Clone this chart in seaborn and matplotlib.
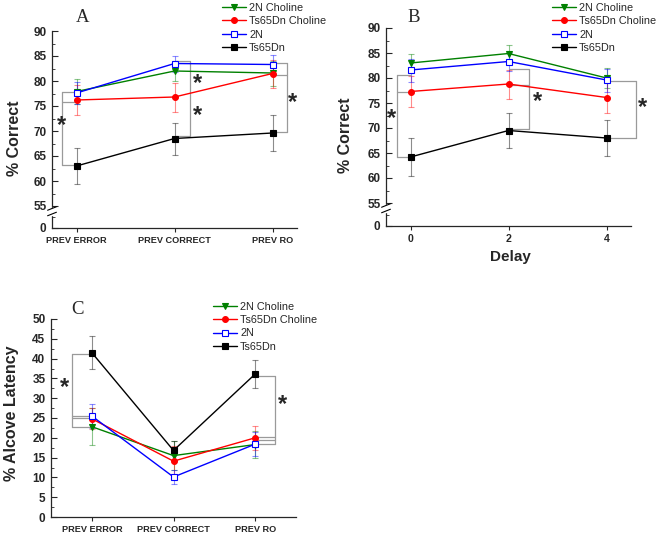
import seaborn as sns
import matplotlib.pyplot as plt
import matplotlib.transforms as mtransforms
import pandas as pd
import numpy as np

sns.set_style("ticks")
plt.rcParams['font.family'] = ['Liberation Sans', 'DejaVu Sans']

# groups and their look
groups = ['2N Choline', 'Ts65Dn Choline', '2N', 'Ts65Dn']
colors = ['#008000', '#ff0000', '#0000ff', '#000000']
markers = ['v', 'o', 's', 's']
faces = ['#008000', '#ff0000', 'white', '#000000']

prev_labels = ['PREV ERROR', 'PREV CORRECT', 'PREV RO']
delays = [0, 2, 4]

# panel A: % correct by previous trial (rows follow groups)
a_mean = [[77.9, 82.0, 81.6], [76.2, 76.8, 81.5], [77.6, 83.5, 83.3], [63.0, 68.5, 69.6]]
a_err = [[2.4, 2.0, 2.5], [3.1, 2.9, 2.8], [2.2, 1.6, 1.9], [3.6, 3.2, 3.6]]

# panel B: % correct by delay
b_mean = [[83.0, 84.9, 80.0], [77.3, 78.8, 76.1], [81.6, 83.3, 79.6], [64.2, 69.5, 68.0]]
b_err = [[1.8, 1.7, 2.0], [3.1, 2.9, 3.1], [2.3, 1.8, 2.3], [3.8, 3.5, 3.6]]

# panel C: % alcove latency by previous trial
c_mean = [[22.8, 15.5, 18.3], [24.8, 14.1, 20.0], [25.5, 10.1, 18.4], [41.5, 16.8, 36.1]]
c_err = [[4.6, 3.6, 3.4], [2.6, 3.8, 3.0], [3.0, 1.7, 3.0], [4.1, 2.4, 3.5]]

# significance brackets: (x of vertical, x of point, levels) and star spots
a_brackets = [(-0.148, 0, [77.9, 75.9, 63.3]), (1.158, 1, [84.0, 69.0]), (2.148, 2, [83.6, 81.2, 69.9])]
a_stars = [(-0.148, 71.0), (1.23, 79.5), (1.23, 73.0), (2.20, 75.6)]
b_brackets = [(-0.28, 0, [80.6, 77.3, 64.2]), (2.42, 2, [81.9, 78.7, 69.8]), (4.60, 4, [79.5, 68.0])]
b_stars = [(-0.38, 71.8), (2.60, 75.3), (4.74, 74.0)]
c_brackets = [(-0.246, 0, [41.2, 25.5, 24.9, 22.8]), (2.24, 2, [35.6, 20.3, 19.4, 18.5])]
c_stars = [(-0.34, 32.8), (2.33, 28.3)]

W, H = 656, 536
fig = plt.figure(figsize=(W / 100, H / 100), dpi=100)
axA = fig.add_axes([52 / W, (H - 228) / H, 245 / W, 197 / H])
axB = fig.add_axes([386 / W, (H - 226) / H, 245 / W, 198 / H])
axC = fig.add_axes([51 / W, (H - 517) / H, 245 / W, 198 / H])


def draw_panel(ax, xs, means, errs):
    for g, col, mk, fc, m, e in zip(groups, colors, markers, faces, means, errs):
        df = pd.DataFrame({'x': xs, 'y': m, 'err': e})
        ax.errorbar(df['x'], df['y'], yerr=df['err'], fmt='none', ecolor=col,
                    alpha=0.45, capsize=2.4, elinewidth=0.8, capthick=0.8, zorder=1)
        sns.lineplot(data=df, x='x', y='y', ax=ax, color=col, marker=mk, markersize=4.2,
                     markerfacecolor=fc, markeredgecolor=col, markeredgewidth=0.8,
                     linewidth=1.0, label=g, zorder=3)


def draw_brackets(ax, brackets, stars):
    for xv, xp, levels in brackets:
        ax.plot([xv, xv], [min(levels), max(levels)], color='#9a9a9a', lw=0.9, clip_on=False, zorder=2)
        for lv in levels:
            ax.plot([xp, xv], [lv, lv], color='#9a9a9a', lw=0.9, clip_on=False, zorder=2)
    for sx, sy in stars:
        ax.text(sx, sy, '*', ha='center', va='center', fontsize=17, fontweight='bold',
                clip_on=False, zorder=4)


def style_axes(ax):
    sns.despine(ax=ax)
    for s in ['left', 'bottom']:
        ax.spines[s].set_linewidth(0.9)
    ax.tick_params(axis='y', which='both', direction='in', labelsize=8.5, pad=4)
    ax.tick_params(axis='y', which='major', length=4, width=0.8)
    ax.tick_params(axis='y', which='minor', length=2, width=0.6)
    ax.tick_params(axis='x', which='major', direction='out', length=3, width=0.8, labelsize=6.6, pad=3)
    for lab in ax.get_xticklabels() + ax.get_yticklabels():
        lab.set_fontweight('bold')


def broken_y(ax, low):
    ticks = [low] + list(range(55, 91, 5))
    ax.set_ylim(low, 90)
    ax.set_yticks(ticks)
    ax.set_yticklabels(['0'] + [str(t) for t in range(55, 91, 5)])
    ax.set_yticks([low + (55 - low) / 2] + [t + 2.5 for t in range(55, 90, 5)], minor=True)
    tr = mtransforms.blended_transform_factory(ax.transAxes, ax.transData)
    ax.add_patch(plt.Rectangle((-0.01, 53.2), 0.02, 1.4, transform=tr, color='white',
                               clip_on=False, zorder=5))
    for yb in [54.5, 53.4]:
        ax.plot([-0.018, 0.018], [yb - 0.35, yb + 0.35], transform=tr, color='black',
                lw=0.8, clip_on=False, zorder=6)


def legend(ax, x, y):
    ax.legend(loc='upper left', bbox_to_anchor=(x / W, 1 - y / H), bbox_transform=fig.transFigure,
              frameon=False, fontsize=7.8, handlelength=2.2, handletextpad=0.3,
              labelspacing=0.3, borderpad=0, borderaxespad=0)


# panel A
draw_panel(axA, [0, 1, 2], a_mean, a_err)
draw_brackets(axA, a_brackets, a_stars)
axA.set_xlim(-0.25, 2.25)
axA.set_xticks([0, 1, 2])
axA.set_xticklabels(prev_labels)
broken_y(axA, 50.6)
axA.set_xlabel('')
axA.set_ylabel('% Correct', fontsize=11.5, fontweight='bold')
axA.yaxis.set_label_coords(-0.122, 0.457)
style_axes(axA)
legend(axA, 222, 3)

# panel B
draw_panel(axB, delays, b_mean, b_err)
draw_brackets(axB, b_brackets, b_stars)
axB.set_xlim(-0.5, 4.5)
axB.set_xticks(delays)
broken_y(axB, 50.4)
axB.set_xlabel('Delay', fontsize=11, fontweight='bold')
axB.xaxis.set_label_coords(0.506, -0.121)
axB.set_ylabel('% Correct', fontsize=11.5, fontweight='bold')
axB.yaxis.set_label_coords(-0.135, 0.46)
style_axes(axB)
axB.tick_params(axis='x', labelsize=7.6)
for lab in axB.get_xticklabels():
    lab.set_fontweight('bold')
legend(axB, 552, 3)

# panel C
draw_panel(axC, [0, 1, 2], c_mean, c_err)
draw_brackets(axC, c_brackets, c_stars)
axC.set_xlim(-0.5, 2.5)
axC.set_xticks([0, 1, 2])
axC.set_xticklabels(prev_labels)
axC.set_ylim(0, 50)
axC.set_yticks(range(0, 51, 5))
axC.set_yticks(np.arange(2.5, 50, 5), minor=True)
axC.set_xlabel('')
axC.set_ylabel('% Alcove Latency', fontsize=11.5, fontweight='bold')
axC.yaxis.set_label_coords(-0.13, 0.525)
style_axes(axC)
legend(axC, 213, 302)

# panel letters
for letter, px, py in [('A', 83, 18), ('B', 414, 18), ('C', 77, 309)]:
    fig.text(px / W, 1 - py / H, letter, ha='center', va='center', fontsize=13.5,
             family=['Liberation Serif', 'DejaVu Serif'])

plt.savefig('out.png', dpi=100)
plt.close()
